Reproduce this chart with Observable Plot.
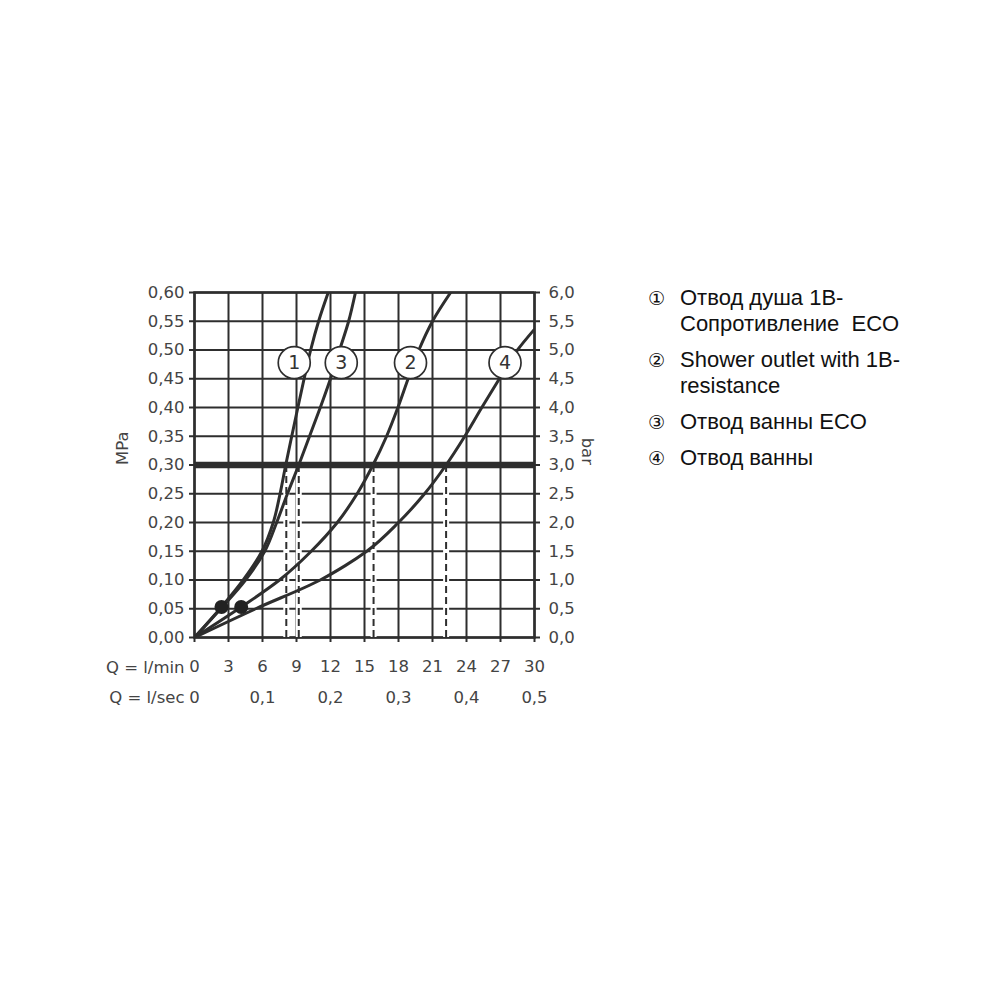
<!DOCTYPE html>
<html>
<head>
<meta charset="utf-8">
<script src="https://cdn.jsdelivr.net/npm/d3@7"></script>
<script src="https://cdn.jsdelivr.net/npm/@observablehq/plot@0.6"></script>
<style>
  html, body { margin: 0; padding: 0; background: #fff; }
  #wrap { position: relative; width: 1000px; height: 1000px; }
  #legend { position: absolute; left: 648px; top: 285px; font-family: "Liberation Sans", Arial, sans-serif; font-size: 22px; color: #111; }
  .item { display: flex; margin-bottom: 10px; line-height: 26px; }
  .num { width: 32px; font-family: "DejaVu Sans", sans-serif; font-size: 19px; }
</style>
</head>
<body>
<div id="wrap">
  <div id="chart"></div>
  <div id="legend"></div>
</div>
<script>
// ---- data (x: Q in l/min, y: pressure in MPa) ----
const curve1X = [0, 2.38, 4.3, 5.95, 6.95, 7.55, 8.05, 8.58, 9.12, 9.67, 10.25, 10.95, 11.8];
const curve1Y = [0, 0.053, 0.10, 0.15, 0.20, 0.25, 0.30, 0.35, 0.40, 0.45, 0.50, 0.55, 0.60];
const curve3X = [0, 2.45, 4.5, 6.2, 7.25, 8.2, 9.2, 10.15, 11.1, 12.0, 12.8, 13.6, 14.2];
const curve3Y = [0, 0.053, 0.10, 0.15, 0.20, 0.25, 0.30, 0.35, 0.40, 0.45, 0.50, 0.55, 0.60];
const curve2X = [0, 4.12, 7.5, 10.3, 12.6, 14.35, 15.75, 16.95, 17.95, 18.85, 19.8, 21.0, 22.6];
const curve2Y = [0, 0.053, 0.10, 0.15, 0.20, 0.25, 0.30, 0.35, 0.40, 0.45, 0.50, 0.55, 0.60];
const curve4X = [0, 5.4, 11.1, 13.3, 15.2, 18.0, 20.3, 22.2, 23.85, 25.35, 26.9, 28.5, 29.95];
const curve4Y = [0, 0.05, 0.10, 0.125, 0.15, 0.20, 0.25, 0.30, 0.35, 0.40, 0.45, 0.50, 0.535];

const dotX = [2.38, 4.12];
const dotY = [0.053, 0.053];

const dashX = [8.1, 9.2, 15.8, 22.2];
const dashTopY = 0.30;
const limitY = 0.30;

const labelText = ["1", "3", "2", "4"];
const labelX = [8.8, 12.95, 19.06, 27.4];
const labelY = [0.478, 0.478, 0.478, 0.478];

const xTicks = [0, 3, 6, 9, 12, 15, 18, 21, 24, 27, 30];
const yTicks = [0, 0.05, 0.10, 0.15, 0.20, 0.25, 0.30, 0.35, 0.40, 0.45, 0.50, 0.55, 0.60];
const secTickPos = [0, 6, 12, 18, 24, 30];
const secTickLabels = ["0", "0,1", "0,2", "0,3", "0,4", "0,5"];

const legendNums = ["①", "②", "③", "④"];
const legendTexts = [
  "Отвод душа 1B-<br>Сопротивление&nbsp; ECO",
  "Shower outlet with 1B-<br>resistance",
  "Отвод ванны ECO",
  "Отвод ванны"
];

// ---- build ----
const curves = [
  ...curve1X.map((x, i) => ({id: "1", x, y: curve1Y[i]})),
  ...curve3X.map((x, i) => ({id: "3", x, y: curve3Y[i]})),
  ...curve2X.map((x, i) => ({id: "2", x, y: curve2Y[i]})),
  ...curve4X.map((x, i) => ({id: "4", x, y: curve4Y[i]}))
];
const dots = dotX.map((x, i) => ({x, y: dotY[i]}));
const labels = labelText.map((t, i) => ({t, x: labelX[i], y: labelY[i]}));
const secTicks = secTickPos.map((x, i) => ({x, t: secTickLabels[i]}));

const ink = "#2e2e2e";
const fontFam = "DejaVu Sans, sans-serif";

const chart = Plot.plot({
  width: 1000,
  height: 1000,
  marginLeft: 194,
  marginRight: 466,
  marginTop: 292,
  marginBottom: 363,
  style: {fontFamily: fontFam, fontSize: "16px", color: "#444", background: "#fff"},
  x: {domain: [0, 30]},
  y: {domain: [0, 0.6]},
  marks: [
    Plot.gridX(xTicks, {stroke: ink, strokeOpacity: 1, strokeWidth: 2}),
    Plot.gridY(yTicks, {stroke: ink, strokeOpacity: 1, strokeWidth: 2}),
    Plot.axisY(yTicks, {anchor: "left", tickSize: 5, tickPadding: 5, stroke: ink, strokeWidth: 2, label: null,
      tickFormat: d => d.toFixed(2).replace(".", ","), fontSize: 16.5}),
    Plot.axisY(yTicks, {anchor: "right", tickSize: 5, tickPadding: 9, stroke: ink, strokeWidth: 2, label: null,
      tickFormat: d => (d * 10).toFixed(1).replace(".", ","), fontSize: 16.5}),
    Plot.axisX(xTicks, {anchor: "bottom", tickSize: 5, tickPadding: 18, stroke: ink, strokeWidth: 2, label: null,
      tickFormat: d => String(d), fontSize: 16.5}),
    Plot.text(secTicks, {x: "x", text: "t", frameAnchor: "bottom", dy: 60, lineAnchor: "middle", fontSize: 16.5, fill: "#444"}),
    Plot.text(["Q = l/min"], {frameAnchor: "bottom-left", textAnchor: "end", dx: -10, dy: 30, lineAnchor: "middle", fontSize: 16.5, fill: "#444"}),
    Plot.text(["Q = l/sec"], {frameAnchor: "bottom-left", textAnchor: "end", dx: -10, dy: 60, lineAnchor: "middle", fontSize: 16.5, fill: "#444"}),
    Plot.text(["MPa"], {frameAnchor: "left", rotate: -90, dx: -72, fontSize: 16.5, fill: "#444"}),
    Plot.text(["bar"], {frameAnchor: "right", rotate: 90, dx: 53, fontSize: 16.5, fill: "#444"}),
    Plot.frame({stroke: ink, strokeWidth: 2.5}),
    Plot.ruleX(dashX, {y1: 0, y2: dashTopY, stroke: "#fff", strokeWidth: 6}),
    Plot.ruleX(dashX, {y1: 0, y2: dashTopY, stroke: ink, strokeWidth: 2, strokeDasharray: "7,4"}),
    Plot.ruleY([limitY], {stroke: ink, strokeWidth: 6.5}),
    Plot.line(curves, {x: "x", y: "y", z: "id", curve: "monotone-y", stroke: ink, strokeWidth: 3, clip: true}),
    Plot.dot(dots, {x: "x", y: "y", r: 7, fill: "#222", stroke: "none"}),
    Plot.dot(labels, {x: "x", y: "y", r: 16, fill: "#fff", stroke: ink, strokeWidth: 1.7}),
    Plot.text(labels, {x: "x", y: "y", text: "t", fontSize: 19, fill: "#333"})
  ]
});
document.getElementById("chart").appendChild(chart);

const legend = document.getElementById("legend");
legendNums.forEach((n, i) => {
  const item = document.createElement("div");
  item.className = "item";
  item.innerHTML = `<span class="num">${n}</span><span>${legendTexts[i]}</span>`;
  legend.appendChild(item);
});
</script>
</body>
</html>
